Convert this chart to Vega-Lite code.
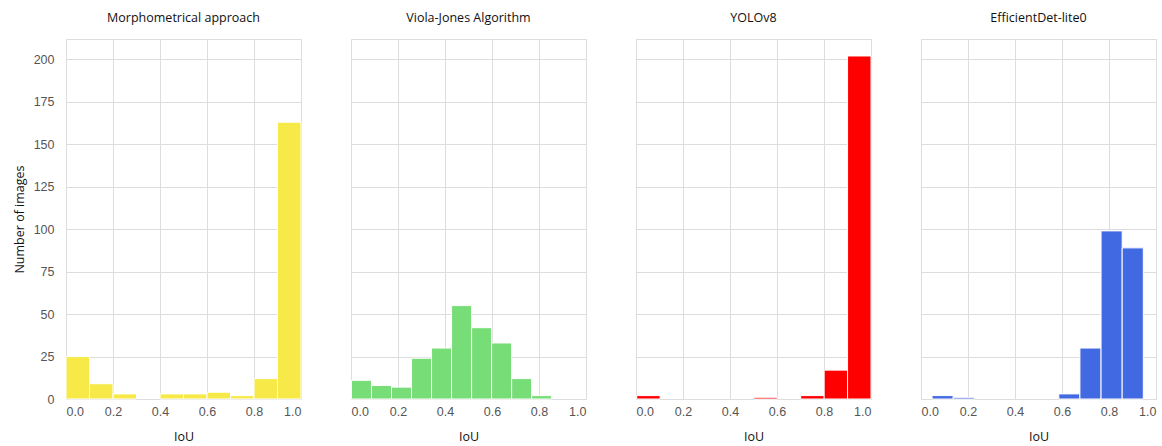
{
  "$schema": "https://vega.github.io/schema/vega-lite/v6.json",
  "padding": {"left": 13, "top": 11, "right": 5, "bottom": 0},
  "background": "white",
  "data": {"values": [
    {"model": "Morphometrical approach", "x0": 0.0, "x1": 0.1, "count": 25},
    {"model": "Morphometrical approach", "x0": 0.1, "x1": 0.2, "count": 9},
    {"model": "Morphometrical approach", "x0": 0.2, "x1": 0.3, "count": 3},
    {"model": "Morphometrical approach", "x0": 0.4, "x1": 0.5, "count": 3},
    {"model": "Morphometrical approach", "x0": 0.5, "x1": 0.6, "count": 3},
    {"model": "Morphometrical approach", "x0": 0.6, "x1": 0.7, "count": 4},
    {"model": "Morphometrical approach", "x0": 0.7, "x1": 0.8, "count": 2},
    {"model": "Morphometrical approach", "x0": 0.8, "x1": 0.9, "count": 12},
    {"model": "Morphometrical approach", "x0": 0.9, "x1": 1.0, "count": 163},
    {"model": "Viola-Jones Algorithm", "x0": 0.002, "x1": 0.0872, "count": 11},
    {"model": "Viola-Jones Algorithm", "x0": 0.0872, "x1": 0.1724, "count": 8},
    {"model": "Viola-Jones Algorithm", "x0": 0.1724, "x1": 0.2576, "count": 7},
    {"model": "Viola-Jones Algorithm", "x0": 0.2576, "x1": 0.3428, "count": 24},
    {"model": "Viola-Jones Algorithm", "x0": 0.3428, "x1": 0.428, "count": 30},
    {"model": "Viola-Jones Algorithm", "x0": 0.428, "x1": 0.5132, "count": 55},
    {"model": "Viola-Jones Algorithm", "x0": 0.5132, "x1": 0.5984, "count": 42},
    {"model": "Viola-Jones Algorithm", "x0": 0.5984, "x1": 0.6836, "count": 33},
    {"model": "Viola-Jones Algorithm", "x0": 0.6836, "x1": 0.7688, "count": 12},
    {"model": "Viola-Jones Algorithm", "x0": 0.7688, "x1": 0.854, "count": 2},
    {"model": "YOLOv8", "x0": 0.003, "x1": 0.1027, "count": 2},
    {"model": "YOLOv8", "x0": 0.5015, "x1": 0.6012, "count": 1},
    {"model": "YOLOv8", "x0": 0.7009, "x1": 0.8006, "count": 2},
    {"model": "YOLOv8", "x0": 0.8006, "x1": 0.9003, "count": 17},
    {"model": "YOLOv8", "x0": 0.9003, "x1": 1.0, "count": 202},
    {"model": "EfficientDet-lite0", "x0": 0.047, "x1": 0.1369, "count": 2},
    {"model": "EfficientDet-lite0", "x0": 0.1369, "x1": 0.2268, "count": 1},
    {"model": "EfficientDet-lite0", "x0": 0.5864, "x1": 0.6763, "count": 3},
    {"model": "EfficientDet-lite0", "x0": 0.6763, "x1": 0.7662, "count": 30},
    {"model": "EfficientDet-lite0", "x0": 0.7662, "x1": 0.8561, "count": 99},
    {"model": "EfficientDet-lite0", "x0": 0.8561, "x1": 0.946, "count": 89}
  ]},
  "facet": {
    "column": {
      "field": "model",
      "type": "nominal",
      "sort": ["Morphometrical approach", "Viola-Jones Algorithm", "YOLOv8", "EfficientDet-lite0"],
      "title": null,
      "header": {"labelFont": "Open Sans", "labelFontSize": 12.5, "labelColor": "#111", "labelPadding": 14}
    }
  },
  "spacing": 48,
  "spec": {
    "width": 235,
    "height": 360,
    "mark": {"type": "bar", "stroke": "white", "strokeWidth": 1, "opacity": 1},
    "encoding": {
      "x": {
        "field": "x0", "type": "quantitative",
        "scale": {"domain": [0, 1], "nice": false, "zero": false, "padding": 0},
        "axis": {"values": [0, 0.2, 0.4, 0.6, 0.8, 1.0], "format": ".1f", "title": "IoU"}
      },
      "x2": {"field": "x1"},
      "y": {
        "field": "count", "type": "quantitative",
        "scale": {"domain": [0, 212], "nice": false, "padding": 0},
        "axis": {"values": [0, 25, 50, 75, 100, 125, 150, 175, 200], "title": "Number of images"}
      },
      "y2": {"datum": 0},
      "color": {
        "field": "model", "type": "nominal", "legend": null,
        "scale": {
          "domain": ["Morphometrical approach", "Viola-Jones Algorithm", "YOLOv8", "EfficientDet-lite0"],
          "range": ["#f7e948", "#77dd77", "#ff0000", "#4169e1"]
        }
      }
    }
  },
  "resolve": {"axis": {"x": "independent"}},
  "config": {
    "view": {"stroke": "#dddddd", "strokeWidth": 1},
    "axis": {
      "grid": true, "gridColor": "#dddddd", "gridWidth": 1,
      "domain": false, "ticks": false,
      "labelFont": "Liberation Sans", "labelFontSize": 12.5, "labelColor": "#555555", "labelPadding": 6,
      "titleFont": "Open Sans", "titleFontSize": 12.5, "titleFontWeight": "normal", "titleColor": "#111111"
    },
    "axisY": {"labelPadding": 11, "titlePadding": 7},
    "axisX": {"titlePadding": 13}
  }
}
